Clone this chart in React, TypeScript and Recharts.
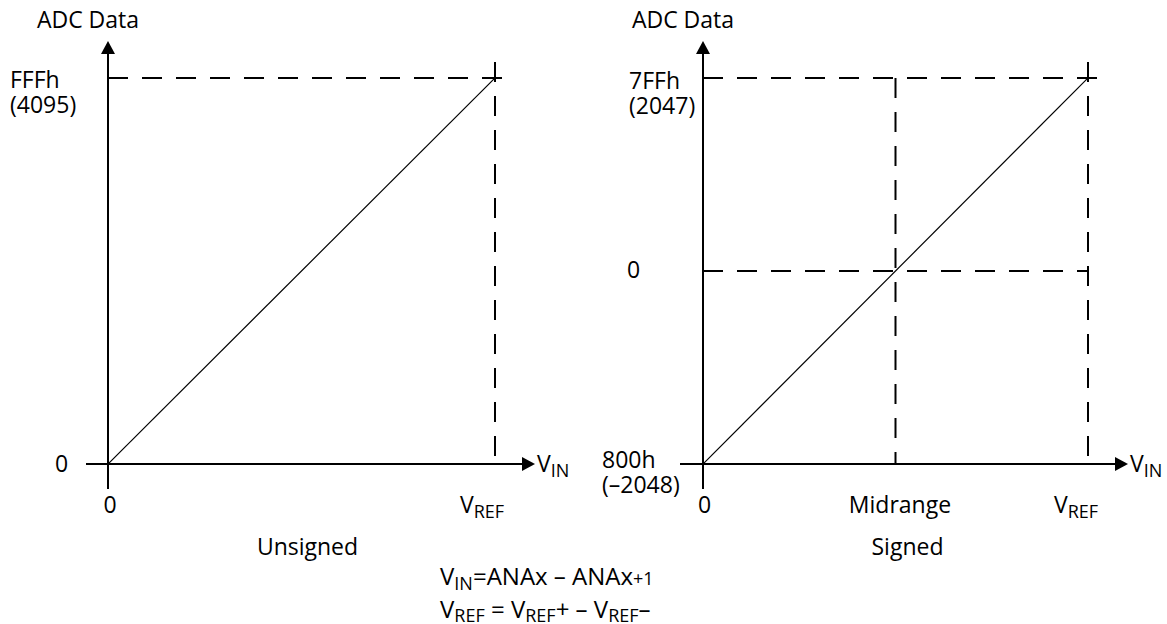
import React from 'react';
import { LineChart, Line, XAxis, YAxis, ReferenceLine } from 'recharts';

const FONT = '"Open Sans", "Noto Sans", Arial, sans-serif';
const FS = 23;
const SUB = 18;
const INK = '#000';

// unsigned transfer function
const unsignedVin = [0, 1];
const unsignedCode = [0, 4095];
const unsignedXTicks = [0, 1];
const unsignedXLabels = ['0', 'V_REF'];
const unsignedYTicks = [0, 4095];
const unsignedYLabels = [['0'], ['FFFh', '(4095)']];

// signed transfer function
const signedVin = [0, 1];
const signedCode = [-2048, 2047];
const signedXTicks = [0, 0.5, 1];
const signedXLabels = ['0', 'Midrange', 'V_REF'];
const signedYTicks = [-2048, 0, 2047];
const signedYLabels = [['800h', '(\u20132048)'], ['0'], ['7FFh', '(2047)']];

// label nudges (px), same order as the ticks
const unsignedXNudge = [2, -13];
const unsignedYNudge = [[-53, 8], [-98, 10]];
const signedXNudge = [1.5, 4.5, -12];
const signedYNudge = [[-101, 4], [-76, 7.5], [-74, 11]];

function SubLabel({ x, y, text, anchor = 'start' }: any) {
  const [main, sub] = text.split('_');
  return (
    <text x={x} y={y} textAnchor={anchor} fontFamily={FONT} fontSize={FS} fill={INK}>
      <tspan>{main}</tspan>
      {sub && (
        <tspan fontSize={SUB} dy={5}>
          {sub}
        </tspan>
      )}
    </text>
  );
}

const xTick = (ticks: number[], labels: string[], nudge: number[]) => (props: any) => {
  const i = ticks.indexOf(props.payload.value);
  if (i < 0) return <g />;
  return <SubLabel x={props.x + nudge[i]} y={props.y + 49} text={labels[i]} anchor="middle" />;
};

const yTick = (ticks: number[], labels: string[][], nudge: number[][]) => (props: any) => {
  const i = ticks.indexOf(props.payload.value);
  if (i < 0) return <g />;
  return (
    <g>
      {labels[i].map((l, k) => (
        <text
          key={k}
          x={props.x + nudge[i][0]}
          y={props.y + nudge[i][1] + k * 25}
          fontFamily={FONT}
          fontSize={FS}
          fill={INK}
        >
          {l}
        </text>
      ))}
    </g>
  );
};

// horizontal axis with arrow head and V_IN
const hAxis = (back: number, fwd: number) => (p: any) => {
  const y = p.y1;
  const left = Math.min(p.x1, p.x2) - back;
  const tip = Math.max(p.x1, p.x2) + fwd;
  return (
    <g>
      <line x1={left} y1={y} x2={tip - 12} y2={y} stroke={INK} strokeWidth={2} />
      <polygon points={`${tip},${y} ${tip - 13},${y - 7} ${tip - 13},${y + 7}`} fill={INK} />
      <SubLabel x={tip + 2} y={y + 8} text="V_IN" />
    </g>
  );
};

// vertical axis with arrow head and title
const vAxis = (below: number, above: number, title: string) => (p: any) => {
  const x = p.x1;
  const bottom = Math.max(p.y1, p.y2) + below;
  const tip = Math.min(p.y1, p.y2) - above;
  return (
    <g>
      <line x1={x} y1={bottom} x2={x} y2={tip + 12} stroke={INK} strokeWidth={2} />
      <polygon points={`${x},${tip} ${x - 7},${tip + 13} ${x + 7},${tip + 13}`} fill={INK} />
      <text x={x - 20} y={tip - 13} textAnchor="middle" fontFamily={FONT} fontSize={FS} fill={INK}>
        {title}
      </text>
    </g>
  );
};

const dash = (extStart: number, extEnd: number) => (p: any) => {
  const dx = p.x2 - p.x1;
  const dy = p.y2 - p.y1;
  const len = Math.hypot(dx, dy) || 1;
  const ux = dx / len;
  const uy = dy / len;
  return (
    <line
      x1={p.x1 - ux * extStart}
      y1={p.y1 - uy * extStart}
      x2={p.x2 + ux * extEnd}
      y2={p.y2 + uy * extEnd}
      stroke={INK}
      strokeWidth={2}
      strokeDasharray="20 14"
    />
  );
};

function Caption(props: any) {
  const vb = props.viewBox || { x: 0, y: 0, width: 0 };
  return (
    <text
      x={vb.x + vb.width / 2 + (props.dx || 0)}
      y={vb.y + 91}
      textAnchor="middle"
      fontFamily={FONT}
      fontSize={FS}
      fill={INK}
    >
      {props.text}
    </text>
  );
}

export default function App() {
  const unsignedData = unsignedVin.map((v, i) => ({ vin: v, code: unsignedCode[i] }));
  const signedData = signedVin.map((v, i) => ({ vin: v, code: signedCode[i] }));

  return (
    <div style={{ position: 'absolute', left: 0, top: 0, width: 1167, height: 624, background: '#fff' }}>
      <div style={{ position: 'absolute', left: 0, top: 0 }}>
        <LineChart width={600} height={624} data={unsignedData} margin={{ top: 78, left: 8, right: 105, bottom: 100 }}>
          <XAxis
            dataKey="vin"
            type="number"
            domain={[0, 1]}
            allowDataOverflow
            ticks={unsignedXTicks}
            interval={0}
            height={60}
            axisLine={false}
            tickLine={false}
            tickSize={0}
            tickMargin={0}
            tick={xTick(unsignedXTicks, unsignedXLabels, unsignedXNudge)}
            label={<Caption text="Unsigned" dx={6} />}
          />
          <YAxis
            type="number"
            domain={[0, 4095]}
            allowDataOverflow
            ticks={unsignedYTicks}
            interval={0}
            width={100}
            axisLine={false}
            tickLine={false}
            tickSize={0}
            tickMargin={0}
            tick={yTick(unsignedYTicks, unsignedYLabels, unsignedYNudge)}
          />
          <ReferenceLine segment={[{ x: 0, y: 4095 }, { x: 1, y: 4095 }]} shape={dash(0, 15)} />
          <ReferenceLine segment={[{ x: 1, y: 4095 }, { x: 1, y: 0 }]} shape={dash(16, 0)} />
          <ReferenceLine y={0} shape={hAxis(22, 40)} />
          <ReferenceLine x={0} shape={vAxis(25, 37, 'ADC Data')} />
          <Line
            dataKey="code"
            type="linear"
            stroke={INK}
            strokeWidth={1.2}
            dot={false}
            activeDot={false}
            isAnimationActive={false}
          />
        </LineChart>
      </div>

      <div style={{ position: 'absolute', left: 595, top: 0 }}>
        <LineChart width={572} height={624} data={signedData} margin={{ top: 78, left: 8, right: 79, bottom: 100 }}>
          <XAxis
            dataKey="vin"
            type="number"
            domain={[0, 1]}
            allowDataOverflow
            ticks={signedXTicks}
            interval={0}
            height={60}
            axisLine={false}
            tickLine={false}
            tickSize={0}
            tickMargin={0}
            tick={xTick(signedXTicks, signedXLabels, signedXNudge)}
            label={<Caption text="Signed" dx={12} />}
          />
          <YAxis
            type="number"
            domain={[-2048, 2047]}
            allowDataOverflow
            ticks={signedYTicks}
            interval={0}
            width={100}
            axisLine={false}
            tickLine={false}
            tickSize={0}
            tickMargin={0}
            tick={yTick(signedYTicks, signedYLabels, signedYNudge)}
          />
          <ReferenceLine segment={[{ x: 0, y: 2047 }, { x: 1, y: 2047 }]} shape={dash(0, 14)} />
          <ReferenceLine segment={[{ x: 1, y: 2047 }, { x: 1, y: -2048 }]} shape={dash(16, 0)} />
          <ReferenceLine segment={[{ x: 0.5, y: 2047 }, { x: 0.5, y: -2048 }]} shape={dash(0, 0)} />
          <ReferenceLine segment={[{ x: 0, y: 0 }, { x: 1, y: 0 }]} shape={dash(0, 0)} />
          <ReferenceLine y={-2048} shape={hAxis(23, 40)} />
          <ReferenceLine x={0} shape={vAxis(25, 37, 'ADC Data')} />
          <Line
            dataKey="code"
            type="linear"
            stroke={INK}
            strokeWidth={1.2}
            dot={false}
            activeDot={false}
            isAnimationActive={false}
          />
        </LineChart>
      </div>

      <svg width={1167} height={624} style={{ position: 'absolute', left: 0, top: 0, pointerEvents: 'none' }}>
        <text x={440} y={585} fontFamily={FONT} fontSize={24} fill={INK}>
          <tspan>V</tspan>
          <tspan fontSize={SUB} dy={5}>IN</tspan>
          <tspan dy={-5}>=ANAx {'\u2013'} ANAx</tspan>
          <tspan fontSize={18}>+1</tspan>
        </text>
        <text x={440} y={618} fontFamily={FONT} fontSize={24} fill={INK}>
          <tspan>V</tspan>
          <tspan fontSize={SUB} dy={4}>REF</tspan>
          <tspan dy={-4}> = V</tspan>
          <tspan fontSize={SUB} dy={4}>REF</tspan>
          <tspan dy={-4}>+ {'\u2013'} V</tspan>
          <tspan fontSize={SUB} dy={4}>REF</tspan>
          <tspan dy={-4}>{'\u2013'}</tspan>
        </text>
      </svg>
    </div>
  );
}
